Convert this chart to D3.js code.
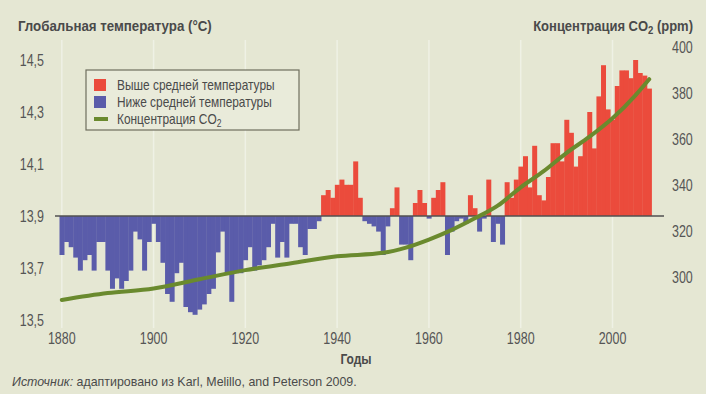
<!DOCTYPE html>
<html>
<head>
<meta charset="utf-8">
<script src="https://cdn.jsdelivr.net/npm/d3@7"></script>
<style>
  body { margin: 0; background: #e5e7d3; }
  svg { display: block; font-family: "Liberation Sans", Arial, sans-serif; }
</style>
</head>
<body>
<div id="chart"></div>
<script>
// годы и среднегодовая температура (°C)
const years = d3.range(1880, 2009);
const temps = [
  13.75, 13.80, 13.78, 13.74, 13.69, 13.73, 13.75, 13.69, 13.80, 13.80,
  13.69, 13.62, 13.66, 13.62, 13.65, 13.69, 13.84, 13.81, 13.69, 13.80,
  13.87, 13.80, 13.72, 13.60, 13.57, 13.68, 13.72, 13.55, 13.53, 13.52,
  13.54, 13.56, 13.60, 13.62, 13.76, 13.84, 13.68, 13.57, 13.68, 13.68,
  13.73, 13.78, 13.69, 13.71, 13.73, 13.78, 13.87, 13.74, 13.80, 13.74,
  13.87, 13.87, 13.78, 13.75, 13.85, 13.85, 13.88, 13.98, 14.00, 13.97,
  14.02, 14.04, 14.02, 14.02, 14.11, 13.97, 13.88, 13.87, 13.86, 13.84,
  13.75, 13.86, 13.93, 14.01, 13.79, 13.79, 13.73, 13.95, 14.00, 13.95,
  13.89, 13.97, 14.00, 14.03, 13.75, 13.84, 13.88, 13.89, 13.87, 13.98,
  13.93, 13.84, 13.89, 14.04, 13.80, 13.87, 13.79, 14.03, 13.97, 14.04,
  14.09, 14.13, 14.01, 14.17, 13.98, 13.96, 14.05, 14.18, 14.18, 14.11,
  14.27, 14.22, 14.09, 14.13, 14.19, 14.30, 14.16, 14.36, 14.48, 14.31,
  14.27, 14.40, 14.46, 14.46, 14.43, 14.50, 14.45, 14.44, 14.39
];
const baseTemp = 13.9;

// концентрация CO2 (ppm)
const co2Years = [1880, 1890, 1900, 1910, 1920, 1930, 1940, 1950, 1955, 1960,
  1965, 1970, 1975, 1980, 1985, 1990, 1995, 2000, 2005, 2008];
const co2Values = [290, 293, 295, 299, 303, 306, 309, 310.5, 312.8, 316.3,
  320.5, 325.5, 331, 339, 346, 354, 361, 369, 379, 386];

const tempTicks = [13.5, 13.7, 13.9, 14.1, 14.3, 14.5];
const co2Ticks = [300, 320, 340, 360, 380, 400];
const yearTicks = [1880, 1900, 1920, 1940, 1960, 1980, 2000];

const legendItems = [
  { label: 'Выше средней температуры', color: '#eb4b3c', type: 'box' },
  { label: 'Ниже средней температуры', color: '#5a5caa', type: 'box' },
  { label: 'Концентрация CO', sub: '2', color: '#6a8a2e', type: 'line' }
];

const width = 706;
const height = 394;
const textColor = '#4a4a4a';

const svg = d3.select('#chart')
  .append('svg')
  .attr('width', width)
  .attr('height', height);

svg.append('rect')
  .attr('width', width)
  .attr('height', height)
  .attr('fill', '#e5e7d3');

// сжатие текста по горизонтали (в оригинале узкий шрифт)
function squeeze(sel, ax, k) {
  sel.attr('transform', `translate(${ax},0) scale(${k},1) translate(${-ax},0)`);
}
function fitWidth(sel, ax, target) {
  const w = sel.node().getBBox().width;
  squeeze(sel, ax, target / w);
}

const x = d3.scaleBand()
  .domain(years)
  .range([59.5, 651.5])
  .padding(0);

const yT = d3.scaleLinear()
  .domain([13.5, 14.5])
  .range([320, 60]);

const yC = d3.scaleLinear()
  .domain([300, 400])
  .range([277, 47]);

const xc = (yr) => x(yr) + x.bandwidth() / 2;

// светлые вертикальные линии сетки
svg.append('g')
  .selectAll('line')
  .data(yearTicks)
  .join('line')
  .attr('x1', (d) => xc(d))
  .attr('x2', (d) => xc(d))
  .attr('y1', 40)
  .attr('y2', 328)
  .attr('stroke', '#eff1e5')
  .attr('stroke-width', 1.5);

// столбцы
svg.append('g')
  .selectAll('rect')
  .data(years.map((yr, i) => ({ year: yr, t: temps[i] })))
  .join('rect')
  .attr('x', (d) => x(d.year))
  .attr('width', x.bandwidth() + 0.4)
  .attr('y', (d) => yT(Math.max(d.t, baseTemp)))
  .attr('height', (d) => Math.abs(yT(d.t) - yT(baseTemp)))
  .attr('fill', (d) => (d.t >= baseTemp ? legendItems[0].color : legendItems[1].color));

// базовая линия 13,9
svg.append('line')
  .attr('x1', 55)
  .attr('x2', 664)
  .attr('y1', yT(baseTemp))
  .attr('y2', yT(baseTemp))
  .attr('stroke', '#505050')
  .attr('stroke-width', 1.5);

// линия CO2
const co2Line = d3.line()
  .x((d) => xc(d[0]))
  .y((d) => yC(d[1]))
  .curve(d3.curveMonotoneX);

svg.append('path')
  .datum(co2Years.map((yr, i) => [yr, co2Values[i]]))
  .attr('d', co2Line)
  .attr('fill', 'none')
  .attr('stroke', legendItems[2].color)
  .attr('stroke-width', 4)
  .attr('stroke-linecap', 'round');

// оси
const leftAxis = svg.append('g')
  .attr('transform', 'translate(44,0)')
  .call(d3.axisLeft(yT)
    .tickValues(tempTicks)
    .tickSize(0)
    .tickPadding(0)
    .tickFormat((d) => d3.format('.1f')(d).replace('.', ',')));

const rightAxis = svg.append('g')
  .attr('transform', 'translate(672,0)')
  .call(d3.axisRight(yC)
    .tickValues(co2Ticks)
    .tickSize(0)
    .tickPadding(0));

const bottomAxis = svg.append('g')
  .attr('transform', 'translate(0,333)')
  .call(d3.axisBottom(x)
    .tickValues(yearTicks)
    .tickSize(0)
    .tickPadding(0));

[leftAxis, rightAxis, bottomAxis].forEach((g) => {
  g.select('.domain').remove();
  g.selectAll('text')
    .style('font-family', 'inherit')
    .style('font-size', '16px')
    .attr('fill', '#555')
    .each(function () { squeeze(d3.select(this), 0, 0.78); });
});

// заголовки
const leftTitle = svg.append('text')
  .attr('x', 18)
  .attr('y', 31)
  .style('font-size', '15px')
  .style('font-weight', 'bold')
  .attr('fill', textColor)
  .text('Глобальная температура (°C)');
fitWidth(leftTitle, 18, 194);

const rightTitle = svg.append('text')
  .attr('x', 693)
  .attr('y', 31)
  .attr('text-anchor', 'end')
  .style('font-size', '15px')
  .style('font-weight', 'bold')
  .attr('fill', textColor);
rightTitle.append('tspan').text('Концентрация CO');
rightTitle.append('tspan').attr('dy', 3).style('font-size', '11px').text('2');
rightTitle.append('tspan').attr('dy', -3).text(' (ppm)');
fitWidth(rightTitle, 693, 160);

const xTitle = svg.append('text')
  .attr('x', 356)
  .attr('y', 364)
  .attr('text-anchor', 'middle')
  .style('font-size', '15px')
  .style('font-weight', 'bold')
  .attr('fill', textColor)
  .text('Годы');
squeeze(xTitle, 356, 0.8);

const source = svg.append('text')
  .attr('x', 12)
  .attr('y', 386)
  .style('font-size', '13px')
  .attr('fill', textColor);
source.append('tspan').style('font-style', 'italic').text('Источник:');
source.append('tspan').text(' адаптировано из Karl, Melillo, and Peterson 2009.');
fitWidth(source, 12, 345);

// легенда
const legend = svg.append('g').attr('transform', 'translate(86,70)');

legend.append('rect')
  .attr('width', 213)
  .attr('height', 60)
  .attr('fill', '#e9ebda')
  .attr('stroke', '#6e6e5e')
  .attr('stroke-width', 1.2);

const legendRow = legend.selectAll('g.item')
  .data(legendItems)
  .join('g')
  .attr('class', 'item')
  .attr('transform', (d, i) => `translate(0,${15 + i * 17})`);

legendRow.filter((d) => d.type === 'box')
  .append('rect')
  .attr('x', 8)
  .attr('y', -6)
  .attr('width', 12)
  .attr('height', 12)
  .attr('fill', (d) => d.color);

legendRow.filter((d) => d.type === 'line')
  .append('line')
  .attr('x1', 8)
  .attr('x2', 22)
  .attr('y1', 0)
  .attr('y2', 0)
  .attr('stroke', (d) => d.color)
  .attr('stroke-width', 4);

const legendText = legendRow.append('text')
  .attr('x', 31)
  .attr('y', 5)
  .style('font-size', '14px')
  .attr('fill', textColor);
legendText.append('tspan').text((d) => d.label);
legendText.filter((d) => d.sub)
  .append('tspan')
  .attr('dy', 3)
  .style('font-size', '10px')
  .text((d) => d.sub);
legendText.each(function () { squeeze(d3.select(this), 31, 0.85); });
</script>
</body>
</html>
